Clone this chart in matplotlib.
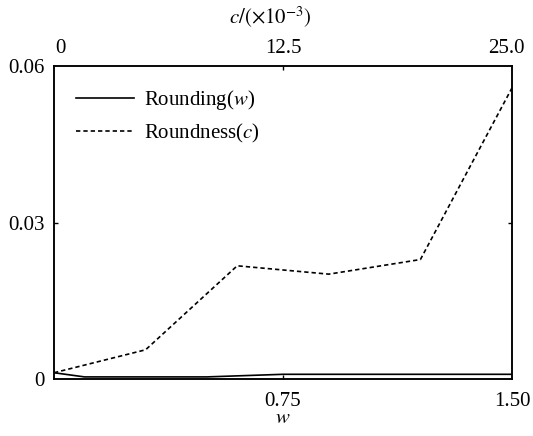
import matplotlib
matplotlib.use("Agg")
import matplotlib.pyplot as plt
import matplotlib.transforms as mtransforms

plt.rcParams['font.family'] = ['Liberation Serif', 'DejaVu Serif']
plt.rcParams['mathtext.fontset'] = 'stix'
plt.rcParams['font.size'] = 15

# Rounding vs w (bottom axis)
w_vals = [0.0, 0.1, 0.5, 0.75, 1.0, 1.25, 1.5]
rounding_vals = [0.0012, 0.0004, 0.0004, 0.0009, 0.0009, 0.0009, 0.0009]

# Roundness vs c (top axis, x10^-3)
c_vals = [0, 5, 10, 15, 20, 25]
roundness_vals = [0.0012, 0.0056, 0.0217, 0.0201, 0.0229, 0.0558]

y_ticks = [0, 0.03, 0.06]
y_ticklabels = ["0", "0.03", "0.06"]
w_ticks = [0.75, 1.5]
w_ticklabels = ["0.75", "1.50"]
c_ticks = [0, 12.5, 25.0]
c_ticklabels = ["0", "12.5", "25.0"]

fig = plt.figure(figsize=(5.33, 4.36), dpi=100)
ax = fig.add_axes([54/533, 1-379/436, (512-54)/533, (379-66)/436])
ax2 = ax.twiny()

l1, = ax.plot(w_vals, rounding_vals, color='black', lw=1.2, label='Rounding($w$)')
l2, = ax2.plot(c_vals, roundness_vals, color='black', lw=1.2,
               linestyle=(0, (2.6, 1.8)), label='Roundness($c$)')

ax.set_xlim(0, 1.5)
ax.set_ylim(0, 0.06)
ax2.set_xlim(0, 25)

ax.set_yticks(y_ticks)
ax.set_yticklabels(y_ticklabels)
ax.set_xticks(w_ticks)
ax.set_xticklabels(w_ticklabels)
ax2.set_xticks(c_ticks)
ax2.set_xticklabels(c_ticklabels)

for a in (ax, ax2):
    for s in a.spines.values():
        s.set_linewidth(1.1)
        s.set_color('black')

ax.tick_params(axis='both', direction='in', length=3, width=1.0, colors='black')
ax.tick_params(axis='y', right=True, pad=7)
ax.tick_params(axis='x', pad=9)
ax2.tick_params(axis='x', direction='in', length=3, width=1.0, pad=6)

# shift edge labels inward on top axis
labs = ax2.get_xticklabels()
labs[0].set_transform(labs[0].get_transform() + mtransforms.ScaledTranslation(6.5/100, 0, fig.dpi_scale_trans))
labs[2].set_transform(labs[2].get_transform() + mtransforms.ScaledTranslation(-6/100, 0, fig.dpi_scale_trans))

# hide edge tick marks (only middle ticks visible)
for t in ax.yaxis.get_major_ticks():
    if t.get_loc() in (0, 0.06):
        t.tick1line.set_visible(False)
        t.tick2line.set_visible(False)
for t in ax.xaxis.get_major_ticks():
    if t.get_loc() == 1.5:
        t.tick1line.set_visible(False)
for t in ax2.xaxis.get_major_ticks():
    if t.get_loc() in (0, 25.0):
        t.tick2line.set_visible(False)

ax.set_xlabel('$w$', labelpad=-1)
ax2.set_xlabel(r'$c/(\times 10^{-3})$', labelpad=12)
ax2.xaxis.set_label_coords(0.472, 1.0)
ax2.xaxis.label.set_verticalalignment('bottom')
ax2.xaxis.label.set_transform(ax2.transAxes + mtransforms.ScaledTranslation(0, 36/100, fig.dpi_scale_trans))

ax.legend(handles=[l1, l2], loc='upper left', bbox_to_anchor=(0.03, 0.955),
          frameon=False, handlelength=2.8, handletextpad=0.45,
          borderaxespad=0, labelspacing=0.45)

fig.savefig('out.png', dpi=100)
